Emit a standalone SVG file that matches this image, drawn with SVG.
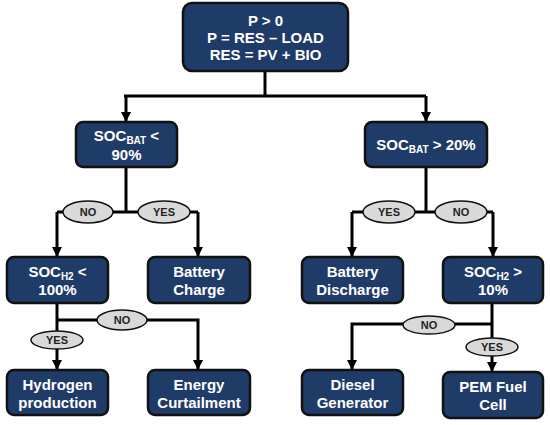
<svg xmlns="http://www.w3.org/2000/svg" width="550" height="425" viewBox="0 0 550 425">
<defs>
<marker id="ah" markerWidth="10" markerHeight="10" refX="5" refY="9" orient="auto" markerUnits="userSpaceOnUse" viewBox="0 0 10 10">
<path d="M0,0 L10,0 L5,9 Z" fill="#000" transform="rotate(-90 5 5)"/>
</marker>
<marker id="arr" markerWidth="10" markerHeight="10" refX="9" refY="5" orient="auto" markerUnits="userSpaceOnUse" viewBox="0 0 10 10">
<path d="M0,0 L10,5 L0,10 Z" fill="#000"/>
</marker>
<style>
.box{fill:#1f3b68;stroke:#111;stroke-width:2.5}
.t{font-family:"Liberation Sans",Arial,sans-serif;font-weight:bold;font-size:15px;fill:#fff;text-anchor:middle}
.sub{font-size:10px}
.c{fill:none;stroke:#000;stroke-width:3}
.ell{fill:#d9d9d9;stroke:#111;stroke-width:1.5}
.l{font-family:"Liberation Sans",Arial,sans-serif;font-weight:bold;font-size:11px;fill:#222;text-anchor:middle}
</style>
</defs>
<rect width="550" height="425" fill="#fff"/>
<g id="connectors">
<path class="c" d="M265,71 V96"/>
<path class="c" d="M124,96 H426" />
<path class="c" d="M126,96 V121" marker-end="url(#arr)"/>
<path class="c" d="M426,96 V121" marker-end="url(#arr)"/>
<path class="c" d="M126,167 V212"/>
<path class="c" d="M57,212 H198"/>
<path class="c" d="M57,212 V256" marker-end="url(#arr)"/>
<path class="c" d="M198,212 V256" marker-end="url(#arr)"/>
<path class="c" d="M426,167 V212"/>
<path class="c" d="M352,212 H493"/>
<path class="c" d="M352,212 V256" marker-end="url(#arr)"/>
<path class="c" d="M493,212 V256" marker-end="url(#arr)"/>
<path class="c" d="M57,303 V369" marker-end="url(#arr)"/>
<path class="c" d="M57,320 H198 V369" marker-end="url(#arr)"/>
<path class="c" d="M492,303 V371" marker-end="url(#arr)"/>
<path class="c" d="M492,324 H352 V369" marker-end="url(#arr)"/>
<ellipse class="ell" cx="88" cy="212" rx="25" ry="11"/>
<text class="l" x="88" y="216">NO</text>
<ellipse class="ell" cx="164" cy="212" rx="26" ry="11"/>
<text class="l" x="164" y="216">YES</text>
<ellipse class="ell" cx="389" cy="212" rx="26" ry="11"/>
<text class="l" x="389" y="216">YES</text>
<ellipse class="ell" cx="461" cy="212" rx="26" ry="11"/>
<text class="l" x="461" y="216">NO</text>
<ellipse class="ell" cx="122" cy="320" rx="25" ry="10"/>
<text class="l" x="122" y="324">NO</text>
<ellipse class="ell" cx="57" cy="340" rx="26" ry="9"/>
<text class="l" x="57" y="344">YES</text>
<ellipse class="ell" cx="429" cy="325" rx="26" ry="9"/>
<text class="l" x="429" y="329">NO</text>
<ellipse class="ell" cx="492" cy="347" rx="26" ry="9"/>
<text class="l" x="492" y="351">YES</text>
</g>
<g id="n0">
<rect class="box" x="183" y="3" width="165" height="68" rx="9"/>
<text class="t" x="265.5" y="26">P &gt; 0</text>
<text class="t" x="265.5" y="43">P = RES – LOAD</text>
<text class="t" x="265.5" y="60">RES = PV + BIO</text>
</g>
<g id="n1">
<rect class="box" x="76" y="122" width="101" height="45" rx="7"/>
<text class="t" x="126.5" y="141">SOC<tspan class="sub" dy="3">BAT</tspan><tspan dy="-3"> &lt;</tspan></text>
<text class="t" x="126.5" y="160">90%</text>
</g>
<g id="n2">
<rect class="box" x="365" y="122" width="122" height="45" rx="7"/>
<text class="t" x="426" y="150">SOC<tspan class="sub" dy="3">BAT</tspan><tspan dy="-3"> &gt; 20%</tspan></text>
</g>
<g id="n3">
<rect class="box" x="7" y="257" width="101" height="46" rx="7"/>
<text class="t" x="57.5" y="277">SOC<tspan class="sub" dy="3">H2</tspan><tspan dy="-3"> &lt;</tspan></text>
<text class="t" x="57.5" y="295">100%</text>
</g>
<g id="n4">
<rect class="box" x="148" y="257" width="102" height="46" rx="7"/>
<text class="t" x="199" y="277">Battery</text>
<text class="t" x="199" y="295">Charge</text>
</g>
<g id="n5">
<rect class="box" x="302" y="257" width="101" height="46" rx="7"/>
<text class="t" x="352.5" y="277">Battery</text>
<text class="t" x="352.5" y="295">Discharge</text>
</g>
<g id="n6">
<rect class="box" x="443" y="257" width="100" height="46" rx="7"/>
<text class="t" x="493" y="277">SOC<tspan class="sub" dy="3">H2</tspan><tspan dy="-3"> &gt;</tspan></text>
<text class="t" x="493" y="295">10%</text>
</g>
<g id="n7">
<rect class="box" x="7" y="370" width="101" height="45" rx="7"/>
<text class="t" x="57.5" y="390">Hydrogen</text>
<text class="t" x="57.5" y="408">production</text>
</g>
<g id="n8">
<rect class="box" x="148" y="370" width="102" height="45" rx="7"/>
<text class="t" x="199" y="390">Energy</text>
<text class="t" x="199" y="408">Curtailment</text>
</g>
<g id="n9">
<rect class="box" x="302" y="370" width="101" height="45" rx="7"/>
<text class="t" x="352.5" y="390">Diesel</text>
<text class="t" x="352.5" y="408">Generator</text>
</g>
<g id="n10">
<rect class="box" x="443" y="372" width="100" height="46" rx="7"/>
<text class="t" x="493" y="392">PEM Fuel</text>
<text class="t" x="493" y="410">Cell</text>
</g>
</svg>
